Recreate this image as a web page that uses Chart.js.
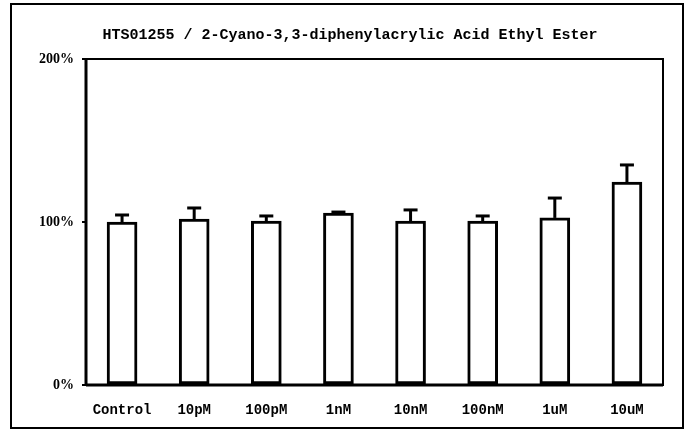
<!DOCTYPE html>
<html>
<head>
<meta charset="utf-8">
<script src="https://cdn.jsdelivr.net/npm/chart.js@4.4.1/dist/chart.umd.min.js"></script>
<style>
  html, body { margin: 0; padding: 0; background: #fff; }
  #wrap { width: 687px; height: 430px; position: relative; }
</style>
</head>
<body>
<div id="wrap"><canvas id="c" width="687" height="430"></canvas></div>
<script>
const titleText = "HTS01255 / 2-Cyano-3,3-diphenylacrylic Acid Ethyl Ester";
const categories = ["Control", "10pM", "100pM", "1nM", "10nM", "100nM", "1uM", "10uM"];
const meanValues = [100, 101.8, 100.6, 105.5, 100.6, 100.6, 102.5, 124.5];
const errorTops  = [104.3, 108.6, 103.7, 106.1, 107.4, 103.7, 114.7, 135];
const yTicks = [0, 100, 200];

const framePlugin = {
  id: 'frame',
  beforeDatasetsDraw(chart) {
    const ctx = chart.ctx;
    const a = chart.chartArea;
    ctx.save();
    ctx.strokeStyle = '#000';
    // outer frame
    ctx.lineWidth = 2;
    ctx.strokeRect(11, 4, 672, 424);
    // plot box
    ctx.lineWidth = 2;
    ctx.strokeRect(a.left, a.top, a.right - a.left, a.bottom - a.top);
    ctx.lineWidth = 3;
    ctx.beginPath();
    ctx.moveTo(a.left, a.top);
    ctx.lineTo(a.left, a.bottom + 1);
    ctx.moveTo(a.left, a.bottom);
    ctx.lineTo(a.right, a.bottom);
    ctx.stroke();
    ctx.restore();
  }
};

const errorPlugin = {
  id: 'errbars',
  afterDatasetsDraw(chart) {
    const ctx = chart.ctx;
    const meta = chart.getDatasetMeta(0);
    const y = chart.scales.y;
    ctx.save();
    ctx.strokeStyle = '#000';
    meta.data.forEach((bar, i) => {
      const x = bar.x;
      const yTop = y.getPixelForValue(errorTops[i]);
      const yBar = y.getPixelForValue(meanValues[i]);
      ctx.lineWidth = 3;
      ctx.beginPath();
      ctx.moveTo(x, yBar);
      ctx.lineTo(x, yTop);
      ctx.stroke();
      ctx.lineWidth = 3;
      ctx.beginPath();
      ctx.moveTo(x - 7, yTop);
      ctx.lineTo(x + 7, yTop);
      ctx.stroke();
    });
    ctx.restore();
  }
};

new Chart(document.getElementById('c'), {
  type: 'bar',
  data: {
    labels: categories,
    datasets: [{
      data: meanValues,
      backgroundColor: '#ffffff',
      borderColor: '#000000',
      borderWidth: 3,
      borderSkipped: false,
      barThickness: 30
    }]
  },
  options: {
    responsive: false,
    animation: false,
    devicePixelRatio: 1,
    layout: { padding: { left: 37, right: 24, top: 0, bottom: 0 } },
    plugins: {
      legend: { display: false },
      tooltip: { enabled: false },
      title: {
        display: true,
        text: titleText,
        color: '#000',
        font: { family: 'Liberation Mono', size: 15, weight: 'bold' },
        padding: { top: 26, bottom: 15 }
      }
    },
    scales: {
      x: {
        grid: { display: false },
        border: { display: false },
        ticks: {
          color: '#000',
          font: { family: 'Liberation Mono', size: 14, weight: 'bold' },
          padding: 9,
          maxRotation: 0,
          autoSkip: false
        },
        afterFit(s) { s.height = 45; }
      },
      y: {
        min: 0,
        max: 200,
        afterBuildTicks(s) { s.ticks = yTicks.map(v => ({ value: v })); },
        grid: { display: true, drawOnChartArea: false, drawTicks: true, tickLength: 4, color: '#000', lineWidth: 2 },
        border: { display: false },
        ticks: {
          color: '#000',
          font: { family: 'Liberation Serif', size: 14, weight: 'bold' },
          padding: 8,
          callback: v => v + '%'
        },
        afterFit(s) { s.width = 49; }
      }
    }
  },
  plugins: [framePlugin, errorPlugin]
});
</script>
</body>
</html>
